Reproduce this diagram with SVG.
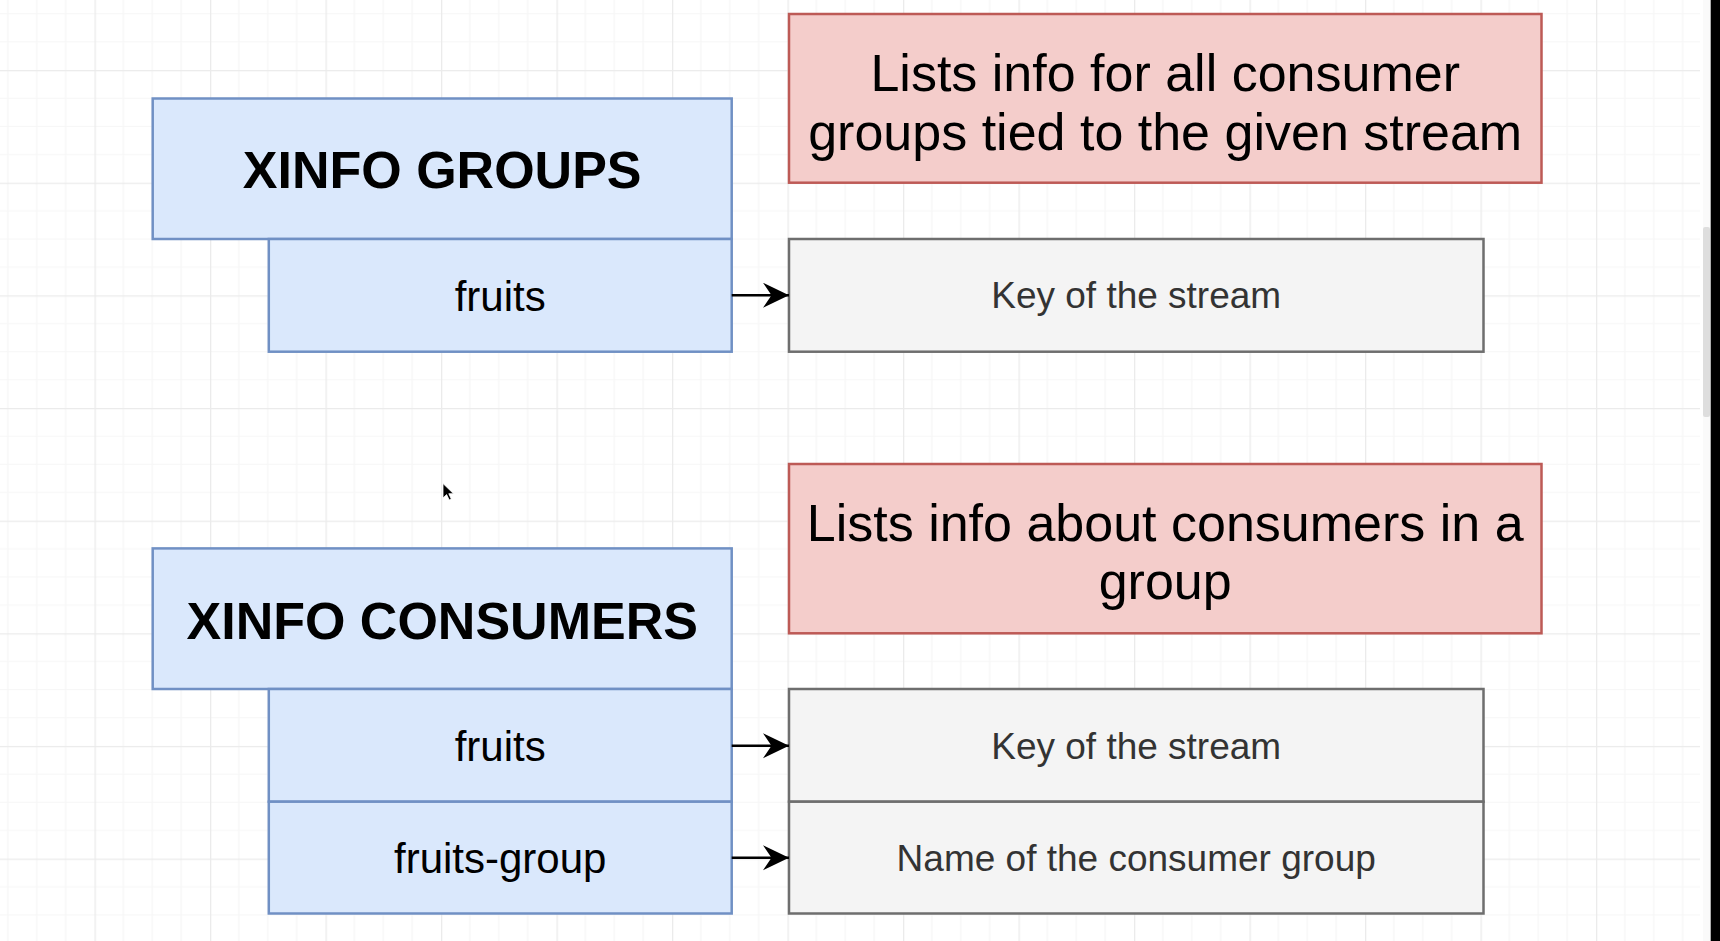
<svg xmlns="http://www.w3.org/2000/svg" width="1720" height="941" viewBox="0 0 1720 941">
<style>
.blue{fill:#dae8fc;stroke:#7090c4;stroke-width:2.5}
.red{fill:#f4cdcb;stroke:#bd5a56;stroke-width:2.5}
.gray{fill:#f4f4f4;stroke:#6e6e6e;stroke-width:2.5}
.title{font-family:"Liberation Sans",Arial,sans-serif;font-weight:bold;font-size:52px;fill:#000;text-anchor:middle}
.desc{font-family:"Liberation Sans",Arial,sans-serif;font-size:52px;fill:#000;text-anchor:middle}
.arg{font-family:"Liberation Sans",Arial,sans-serif;font-size:42px;fill:#000;text-anchor:middle}
.note{font-family:"Liberation Sans",Arial,sans-serif;font-size:37px;fill:#333333;text-anchor:middle}
.conn{stroke:#000;stroke-width:2.6;fill:none}
</style>
<defs>
<pattern id="grid" patternUnits="userSpaceOnUse" x="-21" y="-42.6" width="115.5" height="112.65">
<path d="M28.875 0V112.65M57.75 0V112.65M86.625 0V112.65M0 28.16H115.5M0 56.33H115.5M0 84.49H115.5" stroke="#f6f6f6" stroke-width="1.2" fill="none"/>
<path d="M0.6 0V112.65M0 0.6H115.5" stroke="#ebebeb" stroke-width="1.4" fill="none"/>
</pattern>
<marker id="arrow" markerUnits="userSpaceOnUse" markerWidth="28" markerHeight="28" refX="26" refY="12.5" orient="auto">
<path d="M26 12.5L0 0L8.5 12.5L0 25Z" fill="#000"/>
</marker>
</defs>
<rect x="0" y="0" width="1720" height="941" fill="#ffffff"/>
<rect x="0" y="0" width="1700" height="941" fill="url(#grid)"/>
<rect x="1703" y="0" width="8" height="941" fill="#fafafa"/>
<rect x="1703" y="227" width="7" height="190" rx="2" fill="#dedede"/>
<rect x="1710.7" y="0" width="9.3" height="941" fill="#000"/>

<g id="xinfo-groups">
<rect class="blue" x="152.7" y="98.5" width="579" height="140.5"/>
<text class="title" x="442.2" y="188">XINFO GROUPS</text>
</g>
<g id="groups-fruits">
<rect class="blue" x="268.8" y="239" width="462.9" height="112.7"/>
<text class="arg" x="500.2" y="311">fruits</text>
</g>
<g id="groups-desc">
<rect class="red" x="789" y="14" width="752.5" height="168.7"/>
<text class="desc" x="1165.2" y="91">Lists info for all consumer</text>
<text class="desc" x="1165.2" y="150">groups tied to the given stream</text>
</g>
<g id="groups-key">
<rect class="gray" x="789" y="239" width="694.5" height="112.7"/>
<text class="note" x="1136.2" y="308.3">Key of the stream</text>
</g>

<g id="xinfo-consumers">
<rect class="blue" x="152.7" y="548.4" width="579" height="140.6"/>
<text class="title" x="442.2" y="639">XINFO CONSUMERS</text>
</g>
<g id="consumers-fruits">
<rect class="blue" x="268.8" y="689" width="462.9" height="112.7"/>
<text class="arg" x="500.2" y="761">fruits</text>
</g>
<g id="consumers-group">
<rect class="blue" x="268.8" y="801.7" width="462.9" height="111.8"/>
<text class="arg" x="500.2" y="873">fruits-group</text>
</g>
<g id="consumers-desc">
<rect class="red" x="789" y="464" width="752.5" height="169.3"/>
<text class="desc" x="1165.2" y="541">Lists info about consumers in a</text>
<text class="desc" x="1165.2" y="599">group</text>
</g>
<g id="consumers-key">
<rect class="gray" x="789" y="689" width="694.5" height="112.7"/>
<text class="note" x="1136.2" y="758.5">Key of the stream</text>
</g>
<g id="consumers-name">
<rect class="gray" x="789" y="801.7" width="694.5" height="111.8"/>
<text class="note" x="1136.2" y="870.5">Name of the consumer group</text>
</g>

<g id="connectors">
<path class="conn" d="M731.7 295.2H789" marker-end="url(#arrow)"/>
<path class="conn" d="M731.7 745.7H789" marker-end="url(#arrow)"/>
<path class="conn" d="M731.7 857.7H789" marker-end="url(#arrow)"/>
</g>

<path d="M443 483.5V498L446.6 494.6L449.2 500L451.3 499L448.8 493.7H453.5Z" fill="#000" stroke="#fff" stroke-width="0.8"/>
</svg>
